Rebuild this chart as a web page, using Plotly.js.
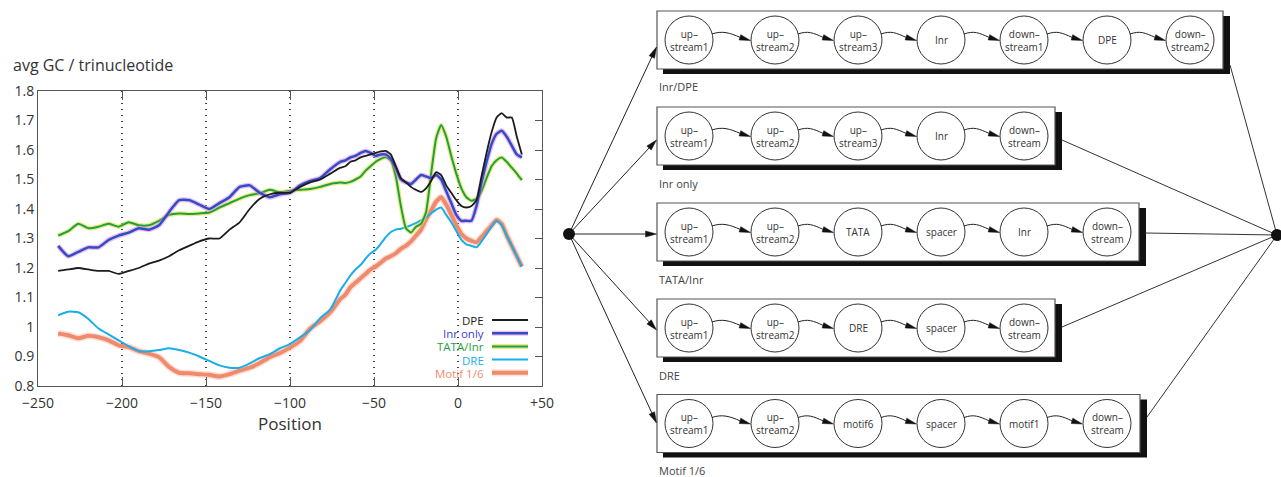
<!DOCTYPE html>
<html><head><meta charset="utf-8">
<script src="https://cdn.plot.ly/plotly-3.0.1.min.js"></script>
<style>html,body{margin:0;padding:0;background:#fff}#chart{width:1281px;height:477px}</style>
</head><body><div id="chart"></div>
<script>
// ---------------- DATA ----------------
const position = [-238,-232,-226,-220,-214,-208,-202,-196,-190,-184,-178,-172,-166,-160,-154,-148,-142,-136,-130,-124,-118,-112,-106,-100,-94,-88,-82,-76,-70,
  -67,-64,-61,-58,-55,-52,-49,-46,-43,-40,-37,-34,-31,-28,-25,-22,-19,-16,-13,-10,-7,-4,-1,2,5,8,11,14,17,20,23,26,29,32,35,38];

const dpe = [1.19,1.195,1.20,1.195,1.19,1.19,1.18,1.19,1.20,1.215,1.225,1.24,1.26,1.275,1.29,1.30,1.30,1.33,1.355,1.40,1.435,1.45,1.455,1.455,1.475,1.49,1.50,1.52,1.54,
  1.545,1.56,1.565,1.575,1.58,1.585,1.59,1.595,1.597,1.585,1.545,1.505,1.49,1.475,1.465,1.458,1.47,1.495,1.525,1.515,1.48,1.455,1.43,1.41,1.405,1.41,1.43,1.51,1.59,1.66,1.71,1.725,1.71,1.71,1.645,1.585];

const inrOnly = [1.275,1.24,1.255,1.27,1.27,1.295,1.31,1.32,1.335,1.33,1.345,1.39,1.43,1.43,1.415,1.40,1.42,1.44,1.475,1.48,1.455,1.44,1.45,1.455,1.48,1.495,1.505,1.535,1.56,
  1.565,1.575,1.58,1.59,1.597,1.59,1.58,1.585,1.585,1.57,1.54,1.50,1.49,1.485,1.50,1.515,1.51,1.505,1.515,1.50,1.46,1.42,1.38,1.36,1.36,1.36,1.41,1.49,1.56,1.62,1.655,1.665,1.645,1.615,1.585,1.575];

const tataInr = [1.31,1.325,1.35,1.335,1.34,1.35,1.34,1.355,1.345,1.345,1.36,1.38,1.385,1.383,1.385,1.388,1.405,1.42,1.435,1.447,1.453,1.465,1.457,1.462,1.465,1.468,1.475,1.485,1.49,
  1.488,1.492,1.50,1.51,1.53,1.545,1.56,1.57,1.575,1.565,1.51,1.41,1.335,1.32,1.34,1.35,1.39,1.52,1.64,1.685,1.645,1.58,1.52,1.47,1.44,1.428,1.435,1.46,1.505,1.545,1.565,1.575,1.56,1.54,1.52,1.498];

const dre = [1.04,1.052,1.05,1.027,0.995,0.975,0.955,0.935,0.918,0.918,0.922,0.928,0.922,0.913,0.90,0.885,0.87,0.862,0.862,0.877,0.895,0.908,0.928,0.942,0.965,0.99,1.03,1.06,1.125,
  1.15,1.175,1.195,1.21,1.232,1.25,1.262,1.282,1.305,1.322,1.33,1.333,1.338,1.345,1.352,1.362,1.372,1.385,1.398,1.405,1.38,1.355,1.325,1.295,1.28,1.275,1.27,1.29,1.315,1.34,1.36,1.345,1.31,1.275,1.24,1.205];

const motif16 = [0.978,0.972,0.962,0.97,0.965,0.955,0.938,0.932,0.918,0.91,0.898,0.865,0.845,0.843,0.84,0.838,0.832,0.84,0.852,0.862,0.878,0.898,0.912,0.93,0.953,0.995,1.02,1.05,1.095,
  1.11,1.135,1.15,1.165,1.18,1.195,1.205,1.218,1.232,1.24,1.25,1.265,1.275,1.29,1.31,1.33,1.365,1.395,1.425,1.44,1.415,1.38,1.345,1.315,1.30,1.292,1.287,1.305,1.325,1.345,1.363,1.35,1.31,1.275,1.24,1.205];

const seriesNames = ['DPE','Inr only','TATA/Inr','DRE','Motif 1/6'];
const xTickVals = [-250,-200,-150,-100,-50,0,50];
const xTickText = ['\u2212250','\u2212200','\u2212150','\u2212100','\u221250','0','+50'];
const yTickVals = [0.8,0.9,1,1.1,1.2,1.3,1.4,1.5,1.6,1.7,1.8];
const yTickText = ['0.8','0.9','1','1.1','1.2','1.3','1.4','1.5','1.6','1.7','1.8'];

// diagram content
const modelNames = ['Inr/DPE','Inr only','TATA/Inr','DRE','Motif 1/6'];
const modelStates = [
  ['up\u2013<br>stream1','up\u2013<br>stream2','up\u2013<br>stream3','Inr','down\u2013<br>stream1','DPE','down\u2013<br>stream2'],
  ['up\u2013<br>stream1','up\u2013<br>stream2','up\u2013<br>stream3','Inr','down\u2013<br>stream'],
  ['up\u2013<br>stream1','up\u2013<br>stream2','TATA','spacer','Inr','down\u2013<br>stream'],
  ['up\u2013<br>stream1','up\u2013<br>stream2','DRE','spacer','down\u2013<br>stream'],
  ['up\u2013<br>stream1','up\u2013<br>stream2','motif6','spacer','motif1','down\u2013<br>stream']
];

// ---------------- LAYOUT HELPERS ----------------
const W = 1281, H = 477;
const px = x => x / W;
const py = y => 1 - y / H;
const FONT = 'Open Sans, Noto Sans, sans-serif';

const colors = {dpe:'#1c1c1c', inr:'#2a4fc8', inrHalo:'rgba(232,120,210,0.5)', tata:'#1f9e4a', tataHalo:'rgba(226,226,60,0.65)', dre:'#17aeea', motif:'#f08a6c', motifHalo:'rgba(240,138,108,0.28)'};

const line = (y, color, width, name) => ({x: position, y: y, type:'scatter', mode:'lines', name: name,
  line:{color: color, width: width, shape:'spline', smoothing:0.5}, hoverinfo:'skip', showlegend:false, xaxis:'x', yaxis:'y'});

const traces = [
  line(motif16, colors.motifHalo, 7, 'Motif 1/6 halo'),
  line(motif16, colors.motif, 4, seriesNames[4]),
  line(dre, colors.dre, 2, seriesNames[3]),
  line(tataInr, colors.tataHalo, 4.5, 'TATA/Inr halo'),
  line(tataInr, colors.tata, 2, seriesNames[2]),
  line(inrOnly, colors.inrHalo, 5, 'Inr only halo'),
  line(inrOnly, colors.inr, 2.5, seriesNames[1]),
  line(dpe, colors.dpe, 1.8, seriesNames[0]),
  {x:[], y:[], type:'scatter', xaxis:'x', yaxis:'y2', showlegend:false, hoverinfo:'skip'}
];

const shapes = [];
const annotations = [];

// ---------- legend (text then line sample) ----------
const legColors = [colors.dpe, colors.inr, colors.tata, colors.dre, colors.motif];
const legText = ['#1c1c1c', '#3b3fd0', '#27a040', '#17aeea', '#f08a70'];
const legHalo = [null, colors.inrHalo, colors.tataHalo, null, colors.motifHalo];
const legWidth = [1.8, 2.5, 2, 2, 4];
const legStep = 13.2, legY0 = 320;
for (let i = 0; i < 5; i++) {
  const yy = legY0 + i * legStep;
  annotations.push({xref:'paper', yref:'paper', x:px(484), y:py(yy+0.5), xanchor:'right', yanchor:'middle', showarrow:false,
    borderpad:0, borderwidth:0, text: seriesNames[i], font:{family:FONT, size:11.5, color:legText[i]}});
  if (legHalo[i]) shapes.push({type:'line', xref:'paper', yref:'paper', x0:px(492), x1:px(528), y0:py(yy), y1:py(yy), line:{color:legHalo[i], width: i===4 ? 7 : 5}});
  shapes.push({type:'line', xref:'paper', yref:'paper', x0:px(492), x1:px(528), y0:py(yy), y1:py(yy), line:{color:legColors[i], width:legWidth[i]}});
}

// ---------- diagram ----------
const P = (x, y) => `${px(x)},${py(y)}`;
function arrowHead(tx, ty, fx, fy, len, hw) {
  const dx = tx - fx, dy = ty - fy, L = Math.hypot(dx, dy);
  const ux = dx / L, uy = dy / L;
  const bx = tx - ux * len, by = ty - uy * len;
  shapes.push({type:'path', xref:'paper', yref:'paper',
    path:`M${P(tx,ty)} L${P(bx - uy*hw, by + ux*hw)} L${P(bx + uy*hw, by - ux*hw)} Z`,
    fillcolor:'#111', line:{color:'#111', width:0.5}});
  return [bx, by];
}

const boxTop = [11, 107, 203, 299, 394.5];
const boxRight = [1223, 1055, 1139, 1055, 1140];
const boxLeft = 657, boxH = 58, R = 24;
const nodeX = [689, 775, 858, 941, 1024, 1107, 1190];
const leftNode = [569, 234], rightNode = [1277, 235];
const inTipY = [47, 140, 234, 330, 423];
const outStart = [[1230, 65], [1062, 140], [1145, 233], [1062, 327], [1147, 417]];

for (let b = 0; b < 5; b++) {
  const t = boxTop[b], r = boxRight[b], cy = t + boxH / 2;
  // shadow
  shapes.push({type:'rect', xref:'paper', yref:'paper', x0:px(boxLeft+6), x1:px(r+7), y0:py(t+boxH+5), y1:py(t+5), fillcolor:'#111', line:{width:0}});
  // box
  shapes.push({type:'rect', xref:'paper', yref:'paper', x0:px(boxLeft), x1:px(r), y0:py(t+boxH), y1:py(t), fillcolor:'#fff', line:{color:'#555', width:1.2}});
  // label
  annotations.push({xref:'paper', yref:'paper', x:px(boxLeft), y:py(t+76), xanchor:'left', yanchor:'middle', showarrow:false,
    text:modelNames[b], font:{family:FONT, size:11, color:'#444'}});
  const states = modelStates[b];
  states.forEach((s, k) => {
    const cx = nodeX[k];
    shapes.push({type:'circle', xref:'paper', yref:'paper', x0:px(cx-R), x1:px(cx+R), y0:py(cy+R), y1:py(cy-R), fillcolor:'#fff', line:{color:'#333', width:1}});
    annotations.push({xref:'paper', yref:'paper', x:px(cx), y:py(cy), xanchor:'center', yanchor:'middle', showarrow:false,
      borderpad:0, text:s, font:{family:FONT, size:10, color:'#333'}});
    if (k < states.length - 1) {
      const nx = nodeX[k+1];
      const sx = cx + 23, sy = cy - 6;
      const tx = nx - R - 0.5, ty = cy + 0.5;
      const [bx, by] = arrowHead(tx, ty, tx - 10.6, ty - 3.2, 11, 2.8);
      shapes.push({type:'path', xref:'paper', yref:'paper',
        path:`M${P(sx,sy)} C${P(sx+10,sy-3.5)} ${P(bx-10,by-4.5)} ${P(bx,by)}`,
        line:{color:'#222', width:1}});
    }
  });
  // arrow from left node
  const [abx, aby] = arrowHead(boxLeft - 0.5, inTipY[b], leftNode[0], leftNode[1], 11, 3);
  shapes.push({type:'line', xref:'paper', yref:'paper', x0:px(leftNode[0]), y0:py(leftNode[1]), x1:px(abx), y1:py(aby), line:{color:'#222', width:1}});
  // line to right node
  shapes.push({type:'line', xref:'paper', yref:'paper', x0:px(outStart[b][0]), y0:py(outStart[b][1]), x1:px(rightNode[0]), y1:py(rightNode[1]), line:{color:'#333', width:1}});
}
shapes.push({type:'circle', xref:'paper', yref:'paper', x0:px(leftNode[0]-6), x1:px(leftNode[0]+6), y0:py(leftNode[1]+6), y1:py(leftNode[1]-6), fillcolor:'#111', line:{color:'#111', width:0}});
shapes.push({type:'circle', xref:'paper', yref:'paper', x0:px(rightNode[0]-6), x1:px(rightNode[0]+6), y0:py(rightNode[1]+6), y1:py(rightNode[1]-6), fillcolor:'#111', line:{color:'#111', width:0}});

const layout = {
  width: W, height: H,
  margin: {l:0, r:0, t:0, b:0},
  paper_bgcolor:'#fff', plot_bgcolor:'#fff',
  font: {family: FONT, color:'#333'},
  showlegend: false,
  title: {text:'avg GC / trinucleotide', x:px(13), xref:'paper', xanchor:'left', y:py(65), yref:'paper', yanchor:'middle',
    font:{family:FONT, size:16, color:'#333'}},
  xaxis: {domain:[px(38), px(542)], range:[-250, 50], tickvals:xTickVals, ticktext:xTickText,
    ticks:'inside', ticklen:9, tickcolor:'#555', showline:true, linecolor:'#555', linewidth:1, mirror:'ticks',
    showgrid:true, gridcolor:'#444', griddash:'1px,5px', gridwidth:1.2, zeroline:false, ticklabelstandoff:4,
    tickfont:{family:FONT, size:14, color:'#333'},
    title:{text:'Position', standoff:2, font:{family:FONT, size:17, color:'#333'}}, anchor:'y', fixedrange:true},
  yaxis: {domain:[1-386/H, 1-91/H], range:[0.8, 1.8], tickvals:yTickVals, ticktext:yTickText,
    ticks:'', showline:true, linecolor:'#555', linewidth:1, mirror:true, showgrid:false, zeroline:false,
    tickfont:{family:FONT, size:14, color:'#333'}, anchor:'x', fixedrange:true},
  yaxis2: {overlaying:'y', side:'right', range:[0.8, 1.8], tickvals:yTickVals, ticks:'inside', ticklen:7, tickcolor:'#555',
    showticklabels:false, showline:false, showgrid:false, zeroline:false, anchor:'x', fixedrange:true},
  shapes: shapes,
  annotations: annotations
};

Plotly.newPlot('chart', traces, layout, {staticPlot:true, displayModeBar:false});
</script>
</body></html>
